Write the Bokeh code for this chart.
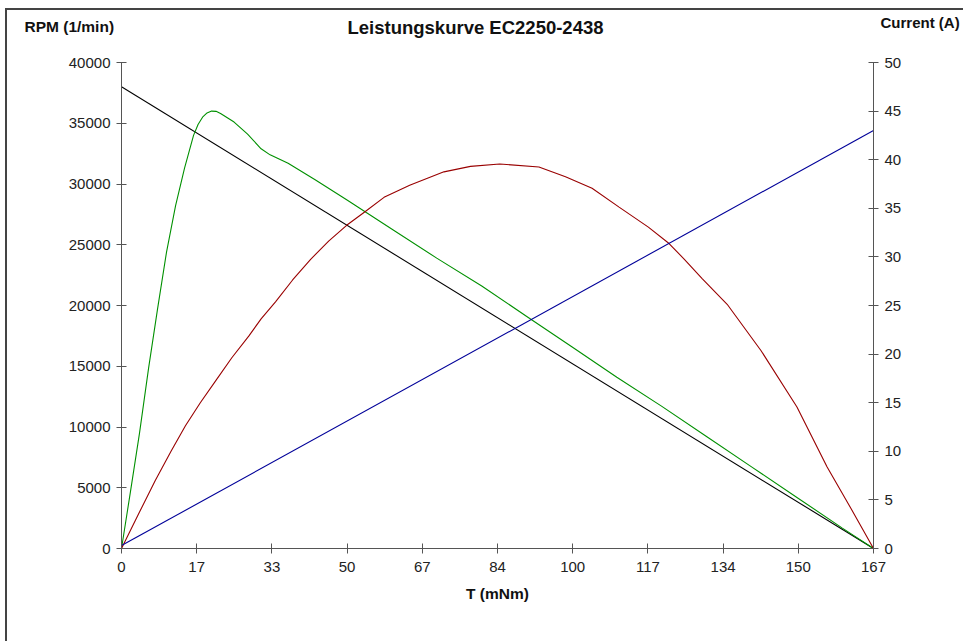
from bokeh.plotting import figure
from bokeh.models import Range1d, LinearAxis, FixedTicker, Label
from bokeh.embed import file_html
from bokeh.resources import INLINE

# ---- data ----
torque_ticks = [0, 16.7, 33.4, 50.1, 66.8, 83.5, 100.2, 116.9, 133.6, 150.3, 167]
torque_tick_labels = ["0", "17", "33", "50", "67", "84", "100", "117", "134", "150", "167"]
rpm_ticks = [0, 5000, 10000, 15000, 20000, 25000, 30000, 35000, 40000]
current_ticks = [0, 5, 10, 15, 20, 25, 30, 35, 40, 45, 50]

speed_T = [0, 167]
speed_rpm = [38000, 0]

current_T = [0, 167]
current_A = [0.3, 43.0]

power_T = [0, 4, 7.5, 11, 14.2, 17.5, 20.9, 24.5, 28.3, 31, 34.2, 38, 42, 46, 50, 54,
           58.3, 64, 71.6, 77.5, 84, 92.7, 98.6, 104.5, 110.5, 117, 121.6, 125, 129,
           134.5, 142, 150, 156.7, 162, 167]
power_val = [0, 3000, 5600, 8000, 10100, 12000, 13800, 15700, 17500, 18900, 20300,
             22100, 23800, 25300, 26600, 27700, 28900, 29900, 31000, 31450, 31650,
             31400, 30600, 29650, 28100, 26450, 25100, 23800, 22200, 20100, 16300,
             11650, 6700, 3300, 0]

eff_T = [0, 2, 4, 6, 8, 10, 12, 14, 16, 17, 18, 19, 20, 21, 22, 25, 28, 31, 33, 35,
         37, 43, 50, 60, 70, 80, 90, 100, 110, 120, 130, 140, 150, 160, 167]
eff_val = [0, 4700, 9500, 14800, 19700, 24400, 28200, 31300, 34000, 34900, 35500,
           35850, 36000, 35980, 35800, 35100, 34100, 32900, 32400, 32050, 31700,
           30350, 28700, 26300, 23900, 21600, 19100, 16600, 14100, 11700, 9200,
           6700, 4200, 1700, 0]

T_MAX, RPM_MAX, CUR_MAX = 167, 40000, 50

# ---- layout (page pixels) ----
FIG_W, FIG_H = 958, 633
CONTENT_X0, CONTENT_Y0 = 7, 10          # page position of the canvas (margin + border)
AX_L, AX_R, AX_T, AX_B = 121, 873, 62, 548  # page position of the axes box

def xd(px):
    return (px - AX_L) * T_MAX / (AX_R - AX_L)

def yd(py, top=RPM_MAX):
    return (AX_B - py) * top / (AX_B - AX_T)

x0, x1 = xd(CONTENT_X0), xd(CONTENT_X0 + FIG_W)
y1, y0 = yd(CONTENT_Y0), yd(CONTENT_Y0 + FIG_H)
c1, c0 = yd(CONTENT_Y0, CUR_MAX), yd(CONTENT_Y0 + FIG_H, CUR_MAX)

FONT = "Liberation Sans"
AXIS_COLOR = "#555555"
TEXT_COLOR = "#222222"

p = figure(width=FIG_W, height=FIG_H, output_backend="svg", toolbar_location=None,
           x_range=Range1d(x0, x1), y_range=Range1d(y0, y1), title=None,
           x_axis_type=None, y_axis_type=None,
           min_border_left=0, min_border_right=0, min_border_top=0,
           min_border_bottom=0)
p.extra_y_ranges = {"cur": Range1d(c0, c1)}
p.outline_line_color = None
p.xgrid.visible = False
p.ygrid.visible = False
p.styles = {"margin-left": "5px", "margin-top": "8px",
            "border-left": "2px solid #444444", "border-top": "2px solid #444444"}

p.line(speed_T, speed_rpm, line_color="#000000", line_width=1.1)
p.line(eff_T, eff_val, line_color="#009000", line_width=1.1)
p.line(power_T, power_val, line_color="#990000", line_width=1.1)
p.line(current_T, current_A, line_color="#000099", line_width=1.1, y_range_name="cur")

xaxis = LinearAxis(fixed_location=0, bounds=(0, T_MAX),
                   ticker=FixedTicker(ticks=torque_ticks))
yaxis = LinearAxis(fixed_location=0, bounds=(0, RPM_MAX),
                   ticker=FixedTicker(ticks=rpm_ticks))
raxis = LinearAxis(fixed_location=T_MAX, bounds=(0, CUR_MAX), y_range_name="cur",
                   ticker=FixedTicker(ticks=current_ticks))
p.add_layout(xaxis, "below")
p.add_layout(yaxis, "left")
p.add_layout(raxis, "right")

for ax in [xaxis, yaxis, raxis]:
    ax.axis_line_color = AXIS_COLOR
    ax.major_tick_line_color = AXIS_COLOR
    ax.minor_tick_line_color = None
    ax.major_tick_in = 5
    ax.major_tick_out = 5
    ax.major_label_text_font = FONT
    ax.major_label_text_font_size = "15px"
    ax.major_label_text_color = TEXT_COLOR
    ax.major_label_standoff = 6

xaxis.major_label_standoff = 8
xaxis.major_label_overrides = {t: l for t, l in zip(torque_ticks, torque_tick_labels)}
xaxis.axis_label = "T (mNm)"
xaxis.axis_label_text_font = FONT
xaxis.axis_label_text_font_style = "bold"
xaxis.axis_label_text_font_size = "15.5px"
xaxis.axis_label_text_color = "#111111"
xaxis.axis_label_standoff = 10

def lab(text, px, py, size, align="left"):
    p.add_layout(Label(x=xd(px), y=yd(py), text=text,
                       text_font=FONT, text_font_style="bold", text_font_size=size,
                       text_color="#111111", text_align=align,
                       text_baseline="alphabetic"))

lab("Leistungskurve EC2250-2438", 475, 27, "18.5px", "center")
lab("RPM (1/min)", 24, 26, "15.5px")
lab("Current (A)", 880, 22, "15px")

open("out.html", "w").write(file_html(p, INLINE))
